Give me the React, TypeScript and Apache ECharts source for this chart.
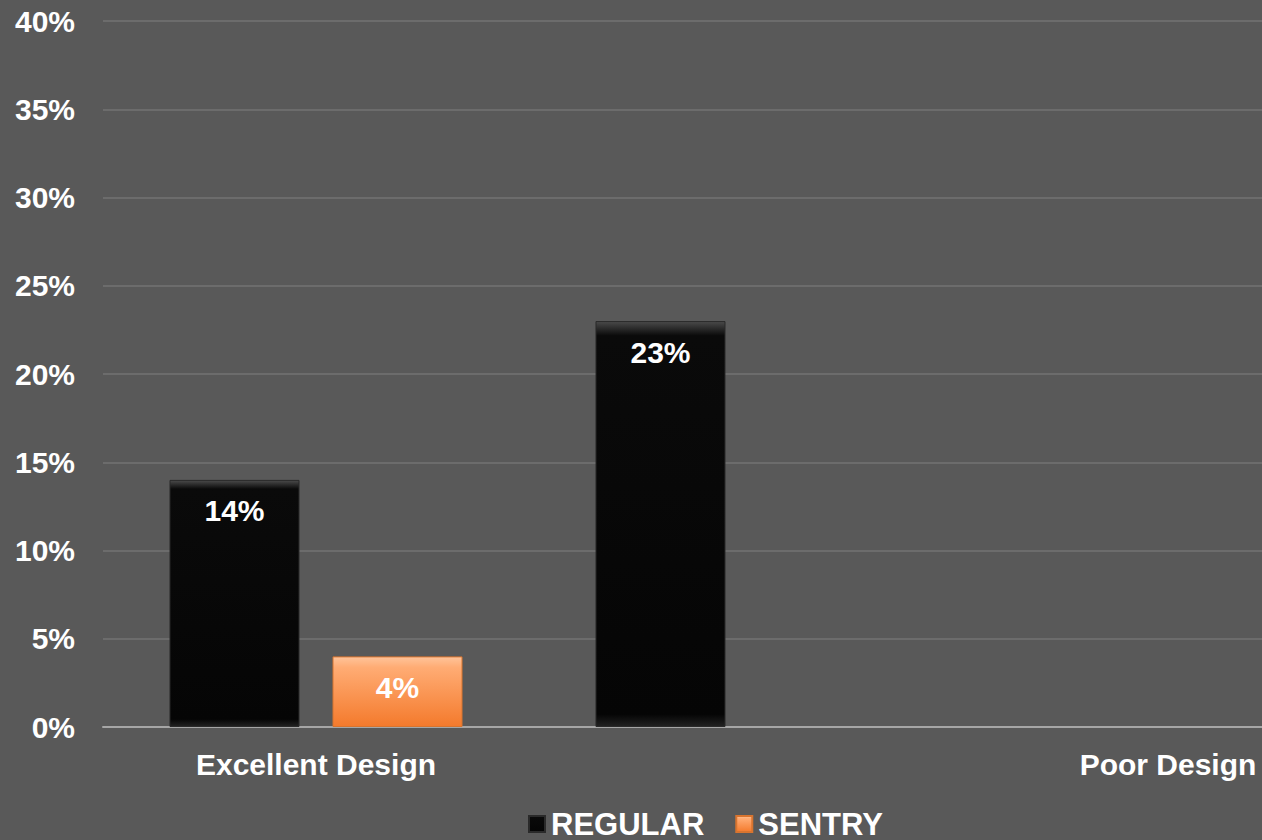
import React, { useEffect, useRef } from "react";
import * as echarts from "echarts";

const categories = ["Excellent Design", "", "Poor Design"];
const regularValues: (number | null)[] = [14, 23, null];
const sentryValues: (number | null)[] = [4, null, null];
const yTicks = { min: 0, max: 40, interval: 5 };

const FONT = "'Liberation Sans', Arial, Helvetica, sans-serif";

export default function App() {
  const ref = useRef<HTMLDivElement>(null);
  useEffect(() => {
    document.body.style.margin = "0";
    document.documentElement.style.overflow = "hidden";
    document.body.style.overflow = "hidden";
    const chart = echarts.init(ref.current!, null, { renderer: "svg" });
    const labelStyle = {
      show: true,
      position: "insideTop" as const,
      distance: 16,
      color: "#ffffff",
      fontFamily: FONT,
      fontWeight: "bold" as const,
      fontSize: 30,
      formatter: "{c}%",
    };
    chart.setOption({
      animation: false,
      backgroundColor: "#595959",
      grid: { left: 103, right: 0, top: 21, bottom: 113, containLabel: false },
      legend: {
        top: 808,
        left: 528,
        padding: 0,
        itemWidth: 16,
        itemHeight: 16,
        itemGap: 31,
        icon: "rect",
        textStyle: {
          color: "#ffffff",
          fontFamily: FONT,
          fontWeight: "bold",
          fontSize: 31,
          lineHeight: 32,
          padding: [0, 0, 0, 1],
        },
        data: ["REGULAR", "SENTRY"],
      },
      xAxis: {
        type: "category",
        data: categories,
        axisLine: { lineStyle: { color: "#a6a6a6", width: 2 } },
        axisTick: { show: false },
        axisLabel: {
          color: "#ffffff",
          fontFamily: FONT,
          fontWeight: "bold",
          fontSize: 30,
          margin: 22,
          interval: 0,
        },
      },
      yAxis: {
        type: "value",
        min: yTicks.min,
        max: yTicks.max,
        interval: yTicks.interval,
        axisLine: { show: false },
        axisTick: { show: false },
        splitLine: { lineStyle: { color: "#6c6c6c", width: 2 } },
        axisLabel: {
          formatter: "{value}%",
          color: "#ffffff",
          fontFamily: FONT,
          fontWeight: "bold",
          fontSize: 30,
          margin: 28,
        },
      },
      series: [
        {
          name: "REGULAR",
          type: "bar",
          data: regularValues,
          barWidth: 130,
          barGap: "25.4%",
          itemStyle: {
            color: new echarts.graphic.LinearGradient(0, 0, 0, 1, [
              { offset: 0, color: "#4a4a4a" },
              { offset: 0.035, color: "#0a0a0a" },
              { offset: 0.97, color: "#050505" },
              { offset: 1, color: "#222222" },
            ]),
            borderColor: "#2a2a2a",
            borderWidth: 1,
          },
          label: labelStyle,
        },
        {
          name: "SENTRY",
          type: "bar",
          data: sentryValues,
          barWidth: 130,
          itemStyle: {
            color: new echarts.graphic.LinearGradient(0, 0, 0, 1, [
              { offset: 0, color: "#ffc49a" },
              { offset: 0.15, color: "#ffac74" },
              { offset: 1, color: "#f47a2c" },
            ]),
            borderColor: "#d8742f",
            borderWidth: 1,
          },
          label: labelStyle,
        },
      ],
    });
    return () => chart.dispose();
  }, []);
  return (
    <div
      ref={ref}
      style={{ position: "absolute", left: 0, top: 0, width: 1381, height: 840 }}
    />
  );
}
